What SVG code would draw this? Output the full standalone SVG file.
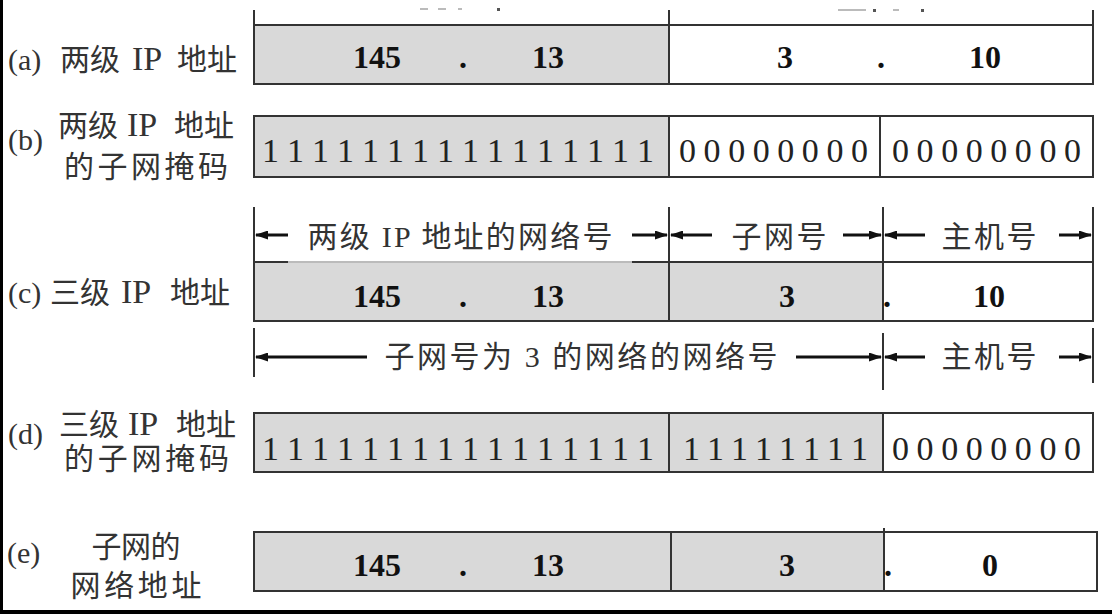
<svg xmlns="http://www.w3.org/2000/svg" width="1112" height="614" viewBox="0 0 1112 614">
<defs>
<marker id="ah" markerUnits="userSpaceOnUse" markerWidth="13" markerHeight="9" refX="12" refY="4.5" orient="auto"><path d="M0,0 L13,4.5 L0,9 z" fill="#111"/></marker>
</defs>
<style>
.box{stroke:#333;stroke-width:2;fill:none}
.g{fill:#d9d9d9}
.w{fill:#fff}
.ln{stroke:#333;stroke-width:2;fill:none}
.lt{stroke:#bbb;stroke-width:2;fill:none}
.arr{stroke:#111;stroke-width:3;marker-end:url(#ah)}
.num{font-family:"Liberation Serif","Times New Roman",serif;font-weight:bold;font-size:32px;fill:#111;text-anchor:middle}
.bits{font-family:"Liberation Serif","Times New Roman",serif;font-size:34px;fill:#222}
.lab{font-family:"Liberation Serif","Noto Sans CJK SC",serif;font-size:30px;fill:#333}
.ip{font-size:34px}
.mid{text-anchor:middle}
.frag{fill:#bbb}
</style>
<rect width="1112" height="614" fill="#fff"/>
<rect x="0" y="0" width="3" height="614" fill="#000"/>
<rect x="0" y="610" width="1112" height="4" fill="#000"/>

<g id="top-fragments">
<rect x="420" y="8" width="8" height="2" class="frag"/>
<rect x="438" y="8" width="8" height="2" class="frag"/>
<rect x="458" y="8" width="4" height="2" class="frag"/>
<rect x="497" y="8" width="3" height="3" fill="#555"/>
<rect x="838" y="9" width="28" height="2" class="frag"/>
<rect x="873" y="9" width="3" height="3" fill="#555"/>
<rect x="893" y="9" width="6" height="2" class="frag"/>
<rect x="921" y="9" width="3" height="3" fill="#555"/>
</g>

<g id="row-a">
<rect x="254" y="25" width="415" height="59" class="g"/>
<rect x="669" y="25" width="424" height="59" class="w"/>
<rect x="254" y="25" width="839" height="59" class="box"/>
<line x1="669" y1="25" x2="669" y2="84" class="ln"/>
<text class="num" x="377" y="68">145</text>
<text class="num" x="463" y="68">.</text>
<text class="num" x="548" y="68">13</text>
<text class="num" x="785" y="68">3</text>
<text class="num" x="881" y="68">.</text>
<text class="num" x="985" y="68">10</text>
<text class="lab" y="70"><tspan x="8">(a)</tspan><tspan x="60">两级</tspan><tspan x="132" class="ip">IP</tspan><tspan x="177">地址</tspan></text>
</g>

<g id="row-b">
<rect x="254" y="116" width="415" height="61" class="g"/>
<rect x="669" y="116" width="424" height="61" class="w"/>
<rect x="254" y="116" width="839" height="61" class="box"/>
<line x1="669" y1="116" x2="669" y2="177" class="ln"/>
<line x1="880" y1="116" x2="880" y2="177" class="ln"/>
<text class="bits" x="262" y="162" textLength="392" lengthAdjust="spacing">1 1 1 1 1 1 1 1 1 1 1 1 1 1 1 1</text>
<text class="bits" x="679" y="162" textLength="189" lengthAdjust="spacing">0 0 0 0 0 0 0 0</text>
<text class="bits" x="892" y="162" textLength="189" lengthAdjust="spacing">0 0 0 0 0 0 0 0</text>
<text class="lab" x="8" y="150">(b)</text>
<text class="lab" y="136"><tspan x="58">两级</tspan><tspan x="127" class="ip">IP</tspan><tspan x="174">地址</tspan></text>
<text class="lab" x="64" y="177" textLength="164" lengthAdjust="spacing">的子网掩码</text>
</g>

<g id="row-c">
<rect x="254" y="262" width="629" height="59" class="g"/>
<rect x="883" y="262" width="210" height="59" class="w"/>
<path d="M254,262 V321 H1093 V262" class="ln"/>
<line x1="254" y1="262" x2="288" y2="262" class="ln"/>
<line x1="288" y1="262" x2="632" y2="262" class="lt"/>
<line x1="632" y1="262" x2="1093" y2="262" class="ln"/>
<line x1="669" y1="262" x2="669" y2="321" class="ln"/>
<line x1="883" y1="262" x2="883" y2="321" class="ln"/>
<text class="num" x="377" y="307">145</text>
<text class="num" x="463" y="307">.</text>
<text class="num" x="548" y="307">13</text>
<text class="num" x="787" y="307">3</text>
<text class="num" x="887" y="307">.</text>
<text class="num" x="989" y="307">10</text>
<text class="lab" y="303"><tspan x="8">(c)</tspan><tspan x="50">三级</tspan><tspan x="121" class="ip">IP</tspan><tspan x="170">地址</tspan></text>
</g>

<g id="row-d">
<rect x="254" y="413" width="629" height="59" class="g"/>
<rect x="883" y="413" width="210" height="59" class="w"/>
<rect x="254" y="413" width="839" height="59" class="box"/>
<line x1="669" y1="413" x2="669" y2="472" class="ln"/>
<line x1="883" y1="413" x2="883" y2="472" class="ln"/>
<text class="bits" x="262" y="460" textLength="392" lengthAdjust="spacing">1 1 1 1 1 1 1 1 1 1 1 1 1 1 1 1</text>
<text class="bits" x="683" y="460" textLength="185" lengthAdjust="spacing">1 1 1 1 1 1 1 1</text>
<text class="bits" x="892" y="460" textLength="189" lengthAdjust="spacing">0 0 0 0 0 0 0 0</text>
<text class="lab" x="8" y="444">(d)</text>
<text class="lab" y="435"><tspan x="59">三级</tspan><tspan x="128" class="ip">IP</tspan><tspan x="176">地址</tspan></text>
<text class="lab" x="64" y="469" textLength="165" lengthAdjust="spacing">的子网掩码</text>
</g>

<g id="row-e">
<rect x="254" y="532" width="630" height="59" class="g"/>
<rect x="884" y="532" width="213" height="59" class="w"/>
<rect x="254" y="532" width="843" height="59" class="box"/>
<line x1="671" y1="532" x2="671" y2="591" class="ln"/>
<line x1="884" y1="528" x2="884" y2="591" class="ln"/>
<text class="num" x="377" y="576">145</text>
<text class="num" x="463" y="576">.</text>
<text class="num" x="548" y="576">13</text>
<text class="num" x="787" y="576">3</text>
<text class="num" x="888" y="576">.</text>
<text class="num" x="990" y="576">0</text>
<text class="lab" x="7" y="563">(e)</text>
<text class="lab mid" x="136" y="557" textLength="89" lengthAdjust="spacing">子网的</text>
<text class="lab mid" x="136" y="596" textLength="131" lengthAdjust="spacing">网络地址</text>
</g>

<g id="connectors">
<line x1="254" y1="10" x2="254" y2="25" class="ln"/>
<line x1="669" y1="10" x2="669" y2="25" class="ln"/>
<line x1="1093" y1="10" x2="1093" y2="25" class="ln"/>

<line x1="254" y1="207" x2="254" y2="262" class="ln"/>
<line x1="669" y1="207" x2="669" y2="262" class="ln"/>
<line x1="883" y1="207" x2="883" y2="262" class="ln"/>
<line x1="1093" y1="207" x2="1093" y2="262" class="ln"/>
<line x1="288" y1="235" x2="256" y2="235" class="arr"/>
<line x1="632" y1="235" x2="667" y2="235" class="arr"/>
<line x1="712" y1="235" x2="671" y2="235" class="arr"/>
<line x1="843" y1="235" x2="881" y2="235" class="arr"/>
<line x1="925" y1="235" x2="885" y2="235" class="arr"/>
<line x1="1059" y1="235" x2="1091" y2="235" class="arr"/>

<line x1="254" y1="328" x2="254" y2="377" class="ln"/>
<line x1="883" y1="333" x2="883" y2="390" class="ln"/>
<line x1="1093" y1="328" x2="1093" y2="383" class="ln"/>
<line x1="367" y1="357" x2="256" y2="357" class="arr"/>
<line x1="796" y1="357" x2="881" y2="357" class="arr"/>
<line x1="925" y1="357" x2="885" y2="357" class="arr"/>
<line x1="1059" y1="357" x2="1091" y2="357" class="arr"/>
</g>

<g id="dimension-labels">
<text class="lab mid" x="460" y="247" textLength="305" lengthAdjust="spacing">两级 IP 地址的网络号</text>
<text class="lab mid" x="779" y="247" textLength="95" lengthAdjust="spacing">子网号</text>
<text class="lab mid" x="989" y="247" textLength="95" lengthAdjust="spacing">主机号</text>
<text class="lab mid" x="581" y="367" textLength="393" lengthAdjust="spacing">子网号为 3 的网络的网络号</text>
<text class="lab mid" x="989" y="367" textLength="95" lengthAdjust="spacing">主机号</text>
</g>
</svg>
